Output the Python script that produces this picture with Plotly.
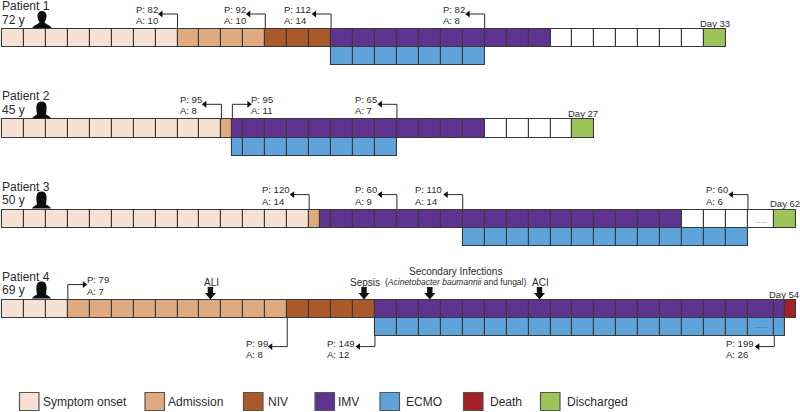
import math
import plotly.graph_objects as go

W, H = 800, 412
CELL_PX = 21.94
X0_PX = 2.0
FONT = "Liberation Sans"
TXT = "#2b2b2b"

STAGE_COLORS = {
    "Symptom onset": "#F5E2D4",
    "Admission": "#DFAA80",
    "NIV": "#A9592A",
    "IMV": "#5F3490",
    "ECMO": "#5FA3DB",
    "Death": "#A32128",
    "Discharged": "#9DC45B",
    "Recovery": "#FFFFFF",
}

# stage, duration in cells. "gap" cells are the broken ("......") cells.
patient_names = ["Patient 1", "Patient 2", "Patient 3", "Patient 4"]
patient_ages = ["72 y", "45 y", "50 y", "69 y"]
patient_final = ["Day 33", "Day 27", "Day 62", "Day 54"]
patient_rows = [29.0, 119.3, 209.6, 299.6]
main_stages = [
    [("Symptom onset", 8), ("Admission", 4), ("NIV", 3), ("IMV", 10), ("Recovery", 7), ("Discharged", 1)],
    [("Symptom onset", 10), ("Admission", 0.5), ("IMV", 11.5), ("Recovery", 4), ("Discharged", 1)],
    [("Symptom onset", 14), ("Admission", 0.5), ("IMV", 16.5), ("Recovery", 3), ("Recovery gap", 1.2), ("Discharged", 1)],
    [("Symptom onset", 3), ("Admission", 10), ("NIV", 4), ("IMV", 17), ("IMV gap", 1.2), ("IMV", 0.5), ("Death", 0.5)],
]
ecmo_start = [15, 10.5, 21, 17]
ecmo_stages = [
    [("ECMO", 7)],
    [("ECMO", 7.5)],
    [("ECMO", 13)],
    [("ECMO", 17), ("ECMO gap", 1.2), ("ECMO", 0.5)],
]

# patient, cell boundary, PaO2, age-score, direction, arrow side
pa_patient = [0, 0, 0, 0, 1, 1, 1, 2, 2, 2, 2, 3, 3, 3, 3]
pa_day = [8, 12, 15, 22, 10, 10.5, 18, 14, 18, 21, 34, 3, 13, 17, 35.2]
pa_p = [82, 92, 112, 82, 95, 95, 65, 120, 60, 110, 60, 79, 99, 149, 199]
pa_a = [10, 10, 14, 8, 8, 11, 7, 14, 9, 14, 6, 7, 8, 12, 26]
pa_dir = ["L", "L", "L", "L", "L", "R", "L", "L", "L", "L", "L", "R", "L", "L", "L"]
pa_below = [0, 0, 0, 0, 0, 0, 0, 0, 0, 0, 0, 0, 1, 1, 1]

event_names = ["ALI", "Sepsis", "", "ACI"]
event_cell = [9.5, 16.5, 19.5, 24.5]

legend_names = ["Symptom onset", "Admission", "NIV", "IMV", "ECMO", "Death", "Discharged"]
legend_x = [19.5, 145, 243.5, 315, 380, 463.5, 540.5]
legend_tx = [43, 168, 268, 338, 406, 490, 567]

def dx(px):
    return (px - X0_PX) / CELL_PX

def fx(px):
    return px / W

ROW_H = 18.2

def cells(stages, start):
    out = {}
    pos = start
    for name, dur in stages:
        end = pos + dur
        base = name.replace(" gap", "")
        if name.endswith("gap") or base in ("Discharged", "Death"):
            out.setdefault(base, []).append((pos, end))
        else:
            p = pos
            while p < end - 1e-9:
                n = min(math.floor(p + 1e-9) + 1, end)
                out.setdefault(base, []).append((p, n))
                p = n
        pos = end
    return out

fig = go.Figure()
collected = {}
for i, top in enumerate(patient_rows):
    for k, v in cells(main_stages[i], 0).items():
        c = collected.setdefault(k, ([], []))
        c[0].extend(v)
        c[1].extend([top + ROW_H / 2] * len(v))
    for k, v in cells(ecmo_stages[i], ecmo_start[i]).items():
        c = collected.setdefault(k, ([], []))
        c[0].extend(v)
        c[1].extend([top + ROW_H * 1.5] * len(v))

for name, (spans, ys) in collected.items():
    fig.add_trace(go.Bar(
        orientation="h", y=ys, x=[b - a for a, b in spans], base=[a for a, b in spans],
        width=ROW_H, name=name, showlegend=False, hoverinfo="skip",
        marker=dict(color=STAGE_COLORS[name], line=dict(color="#3a3a3a", width=1.1)),
    ))

annotations, shapes = [], []

def text(px, y, s, size=10, anchor="left", color=TXT):
    annotations.append(dict(x=fx(px), xref="paper", y=y, yref="y", text=s, showarrow=False,
                            xanchor=anchor, yanchor="middle", align="left", borderpad=0, borderwidth=0,
                            font=dict(family=FONT, size=size, color=color)))

# patient headers and end-of-course labels
final_y = [23.5, 113.5, 203.5, 294]
final_cx = [715, 583, 785, 784]
for i, top in enumerate(patient_rows):
    text(1.5, top - 23, patient_names[i], 12)
    text(1.5, top - 9.5, patient_ages[i], 12)
    text(final_cx[i], final_y[i], patient_final[i], 9.5, "center")

# connector arrows with P/A labels
for pi, d, p, a, dr, below in zip(pa_patient, pa_day, pa_p, pa_a, pa_dir, pa_below):
    top = patient_rows[pi]
    if below:
        y0 = top + (ROW_H * 2 if d >= 17 else ROW_H)
        yh = top + 47
        ty1, ty2 = yh - 3.5, yh + 8
    else:
        y0 = top
        yh = top - 15
        ty1, ty2 = top - 20, top - 8.5
    hlen = dx(X0_PX + 16.5)
    xe = d - hlen if dr == "L" else d + hlen
    fig.add_trace(go.Scatter(x=[d, d, xe], y=[y0, yh, yh], mode="lines", showlegend=False, hoverinfo="skip",
                             line=dict(color="#2a2a2a", width=1)))
    fig.add_trace(go.Scatter(x=[xe], y=[yh], mode="markers", showlegend=False, hoverinfo="skip",
                             marker=dict(symbol="triangle-left" if dr == "L" else "triangle-right",
                                         size=6, color="#111111")))
    px_d = X0_PX + d * CELL_PX
    if dr == "L":
        tx = px_d - 16.5 - 25 if len(str(p)) == 2 else px_d - 16.5 - 31
        if below and p == 199:
            tx = 726
    else:
        tx = px_d + 19
    text(tx, ty1, f"P: {p}", 9.5)
    text(tx, ty2, f"A: {a}", 9.5)

# event markers
EV_TOP, EV_BOT = 287, 299.5
for name, c in zip(event_names, event_cell):
    cx = X0_PX + c * CELL_PX
    x = lambda v: fx(cx + v)
    y = lambda v: 1 - (EV_TOP + v) / H
    path = (f"M {x(-2.7)} {y(0)} L {x(2.7)} {y(0)} L {x(2.7)} {y(6)} L {x(5.5)} {y(6)} "
            f"L {x(0)} {y(12.5)} L {x(-5.5)} {y(6)} L {x(-2.7)} {y(6)} Z")
    shapes.append(dict(type="path", xref="paper", yref="paper", path=path,
                       fillcolor="#111111", line=dict(width=0)))
    if name:
        text(cx + 1, 282, name, 10, "center")
text(455, 271, "Secondary Infections", 10, "center")
text(455, 282, "(<i>Acinetobacter baumannii</i> and fungal)", 8.5, "center")

# broken-cell dots
text(760, 220, "......", 8, "center", "#777777")
text(760, 309, "......", 8, "center", "#555555")
text(760, 325, "......", 8, "center", "#555555")

# person icons
def person(cx, top, female):
    x = lambda v: fx(cx + v)
    y = lambda v: 1 - (top + v) / H
    if female:
        p = (f"M {x(-4.5)} {y(13)} C {x(-5.5)} {y(6)} {x(-6)} {y(0)} {x(0)} {y(0)} "
             f"C {x(6)} {y(0)} {x(5.5)} {y(6)} {x(4.5)} {y(13)} "
             f"C {x(6)} {y(14)} {x(9)} {y(15)} {x(9.5)} {y(17)} L {x(-9.5)} {y(17)} "
             f"C {x(-9)} {y(15)} {x(-6)} {y(14)} {x(-4.5)} {y(13)} Z")
    else:
        p = (f"M {x(-2.5)} {y(11)} C {x(-5.5)} {y(7)} {x(-5.5)} {y(0)} {x(0)} {y(0)} "
             f"C {x(5.5)} {y(0)} {x(5.5)} {y(7)} {x(2.5)} {y(11)} "
             f"C {x(3)} {y(13.5)} {x(9)} {y(14)} {x(9.5)} {y(17)} L {x(-9.5)} {y(17)} "
             f"C {x(-9)} {y(14)} {x(-3)} {y(13.5)} {x(-2.5)} {y(11)} Z")
    shapes.append(dict(type="path", xref="paper", yref="paper", path=p,
                       fillcolor="#0d0d0d", line=dict(width=0)))

person(42, 11, False)
person(41.5, 101.5, True)
person(41.5, 191.5, True)
person(41.5, 281.5, True)

# legend
LEG_Y0, LEG_Y1 = 392.5, 410.5
for name, lx, tx in zip(legend_names, legend_x, legend_tx):
    shapes.append(dict(type="rect", xref="paper", yref="y", x0=fx(lx), x1=fx(lx + 19.5), y0=LEG_Y0, y1=LEG_Y1,
                       fillcolor=STAGE_COLORS[name], line=dict(color="#555555", width=1.2)))
    text(tx, (LEG_Y0 + LEG_Y1) / 2 + 0.5, name, 12)

fig.update_layout(
    width=W, height=H, margin=dict(l=0, r=0, t=0, b=0),
    paper_bgcolor="white", plot_bgcolor="white", barmode="overlay", bargap=0,
    showlegend=False, annotations=annotations, shapes=shapes,
    xaxis=dict(range=[dx(0), dx(W)], visible=False, fixedrange=True),
    yaxis=dict(range=[H, 0], visible=False, fixedrange=True),
)
fig.write_html("out.html", config={"displayModeBar": False, "responsive": False},
               post_script="document.body.style.margin='0';document.documentElement.style.overflow='hidden';")
